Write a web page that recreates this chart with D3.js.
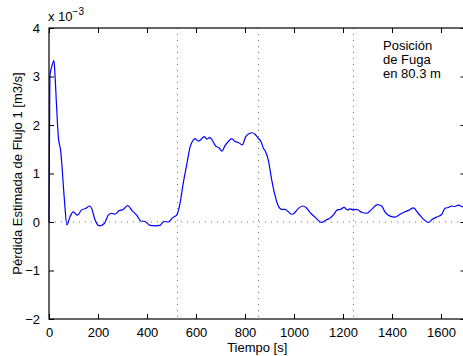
<!DOCTYPE html>
<html>
<head>
<meta charset="utf-8">
<script src="https://cdn.jsdelivr.net/npm/d3@7"></script>
<style>
  body { margin: 0; background: #fff; }
  svg { display: block; font-family: "Liberation Sans", Arial, sans-serif; }
</style>
</head>
<body>
<div id="chart"></div>
<script>
// time [s]
const tiempo = [0, 3, 4, 11, 20, 24, 31, 38, 48, 52, 63, 73, 86, 99, 116, 133, 150, 166, 174, 188,
  205, 226, 242, 256, 269, 286, 303, 321, 340, 358, 375, 392, 412, 433, 453, 469, 487, 505, 521, 535,
  548, 562, 576, 585, 596, 609, 620, 633, 644, 657, 667, 680, 694, 706, 718, 732, 746, 759, 773, 789,
  803, 816, 830, 841, 854, 865, 875, 884, 895, 909, 922, 936, 950, 963, 977, 990, 1001, 1018, 1035, 1049,
  1065, 1086, 1113, 1131, 1147, 1160, 1177, 1190, 1204, 1218, 1229, 1242, 1256, 1276, 1297, 1317, 1340, 1358, 1371, 1392,
  1412, 1433, 1453, 1471, 1487, 1507, 1528, 1548, 1566, 1582, 1603, 1616, 1630, 1644, 1657, 1671, 1684, 1700];
// estimated loss [x 10^-3 m3/s]
const perdida = [0, 2.6, 3.03, 3.2, 3.33, 3.07, 2.38, 1.76, 1.45, 1.21, 0.45, -0.06, 0.11, 0.21, 0.14, 0.25, 0.28, 0.33, 0.28, 0.04,
  -0.08, -0.03, 0.14, 0.18, 0.16, 0.23, 0.26, 0.34, 0.23, 0.14, 0.02, 0.01, -0.07, -0.08, -0.07, 0.01, 0, 0.09, 0.14, 0.39,
  0.8, 1.18, 1.55, 1.66, 1.72, 1.67, 1.7, 1.76, 1.71, 1.74, 1.68, 1.57, 1.53, 1.46, 1.57, 1.66, 1.72, 1.66, 1.64, 1.59,
  1.76, 1.82, 1.84, 1.81, 1.73, 1.66, 1.52, 1.45, 1.28, 0.87, 0.56, 0.33, 0.26, 0.26, 0.21, 0.16, 0.18, 0.28, 0.33, 0.3,
  0.2, 0.1, -0.01, 0.04, 0.08, 0.14, 0.25, 0.26, 0.3, 0.25, 0.27, 0.25, 0.26, 0.2, 0.18, 0.26, 0.36, 0.33, 0.21, 0.12,
  0.1, 0.16, 0.21, 0.25, 0.29, 0.18, 0.06, -0.01, 0.06, 0.1, 0.16, 0.28, 0.3, 0.33, 0.32, 0.35, 0.32, 0.3];

const xTicks = [0, 200, 400, 600, 800, 1000, 1200, 1400, 1600];
const yTicks = [-2, -1, 0, 1, 2, 3, 4];
const marcas = [522, 852, 1239];   // vertical dotted markers
const nota = ['Posición', 'de Fuga', 'en 80.3 m'];

const width = 463, height = 356;
const margin = { top: 28, right: -2.5, bottom: 37, left: 49 };
const iw = width - margin.left - margin.right;
const ih = height - margin.top - margin.bottom;

const svg = d3.select('#chart').append('svg')
  .attr('width', width)
  .attr('height', height);

const g = svg.append('g')
  .attr('transform', `translate(${margin.left},${margin.top})`);

const x = d3.scaleLinear().domain([0, 1700]).range([0, iw]);
const y = d3.scaleLinear().domain([-2, 4]).range([ih, 0]);

// dotted reference lines
g.append('line')
  .attr('x1', 0).attr('x2', iw)
  .attr('y1', y(0)).attr('y2', y(0))
  .attr('stroke', '#777').attr('stroke-width', 1)
  .attr('stroke-dasharray', '1,5');

g.selectAll('.marca')
  .data(marcas)
  .enter()
  .append('line')
  .attr('class', 'marca')
  .attr('x1', d => Math.round(x(d)) + 0.5).attr('x2', d => Math.round(x(d)) + 0.5)
  .attr('y1', 0).attr('y2', ih)
  .attr('stroke', '#777').attr('stroke-width', 1)
  .attr('stroke-dasharray', '1,5');

// data line
const data = tiempo.map((t, i) => ({ t, v: perdida[i] }));
g.append('path')
  .datum(data)
  .attr('fill', 'none')
  .attr('stroke', '#0000ff')
  .attr('stroke-width', 1.2)
  .attr('d', d3.line().x(d => x(d.t)).y(d => y(d.v)).curve(d3.curveMonotoneX));

// axes (ticks inward, box)
const fmt = d => d < 0 ? '\u2212' + Math.abs(d) : d;
const styleAxis = sel => {
  sel.select('.domain').remove();
  sel.selectAll('line').attr('stroke', '#000');
  sel.selectAll('text').attr('fill', '#000').style('font-size', '13px')
    .style('font-family', '"Liberation Sans", Arial, sans-serif');
};

g.append('g')
  .attr('transform', `translate(0,${ih})`)
  .call(d3.axisBottom(x).tickValues(xTicks).tickSize(-5).tickPadding(9).tickFormat(fmt))
  .call(styleAxis);

g.append('g')
  .call(d3.axisTop(x).tickValues(xTicks).tickSize(-5).tickFormat(''))
  .call(styleAxis);

g.append('g')
  .call(d3.axisLeft(y).tickValues(yTicks).tickSize(-5).tickPadding(9).tickFormat(fmt))
  .call(styleAxis);

g.append('g')
  .attr('transform', `translate(${iw},0)`)
  .call(d3.axisRight(y).tickValues(yTicks).tickSize(-5).tickFormat(''))
  .call(styleAxis);

g.append('rect')
  .attr('x', 0).attr('y', 0)
  .attr('width', iw).attr('height', ih)
  .attr('fill', 'none')
  .attr('stroke', '#000').attr('stroke-width', 1.2);

// exponent label
const expo = svg.append('text')
  .attr('x', 48).attr('y', 21)
  .style('font-size', '13px');
expo.append('tspan').text('x 10');
expo.append('tspan').attr('dy', -6).style('font-size', '10px').text('\u22123');

// annotation
svg.append('g').selectAll('text')
  .data(nota)
  .enter()
  .append('text')
  .attr('x', 383)
  .attr('y', (d, i) => 50 + i * 14)
  .style('font-size', '13px')
  .text(d => d);

// axis titles
svg.append('text')
  .attr('x', margin.left + x(850)).attr('y', 352)
  .attr('text-anchor', 'middle')
  .style('font-size', '13px')
  .text('Tiempo [s]');

svg.append('text')
  .attr('transform', `translate(22,${margin.top + ih / 2}) rotate(-90)`)
  .attr('text-anchor', 'middle')
  .style('font-size', '13px')
  .text('Pérdida Estimada de Flujo 1 [m3/s]');
</script>
</body>
</html>
